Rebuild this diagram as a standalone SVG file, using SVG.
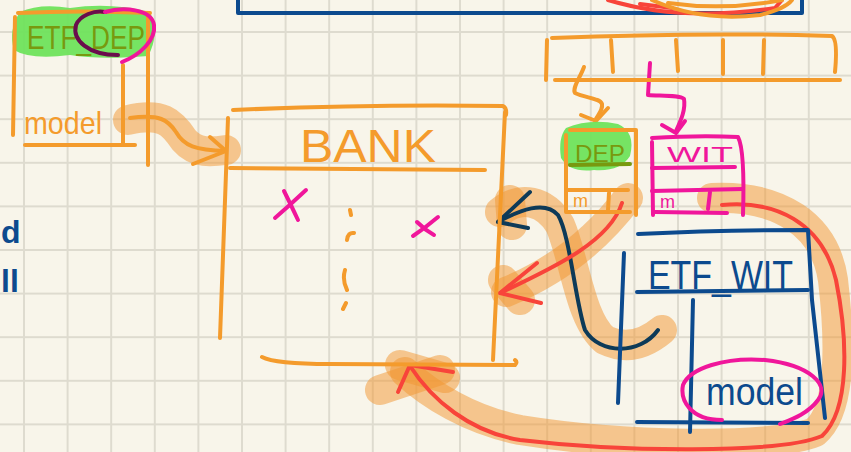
<svg xmlns="http://www.w3.org/2000/svg" width="851" height="452" viewBox="0 0 851 452">
<style>
.o{fill:none;stroke:#f49b2c;stroke-width:4;stroke-linecap:round;stroke-linejoin:round}
.p{fill:none;stroke:#f0169b;stroke-width:4;stroke-linecap:round;stroke-linejoin:round}
.n{fill:none;stroke:#0c4a8e;stroke-width:4;stroke-linecap:round;stroke-linejoin:round}
.r{fill:none;stroke:#f8443a;stroke-width:4;stroke-linecap:round;stroke-linejoin:round}
.d{fill:none;stroke:#0d3a58;stroke-width:4;stroke-linecap:round;stroke-linejoin:round}
.hl{fill:none;stroke:#f29530;stroke-opacity:0.5;stroke-width:30;stroke-linecap:round;stroke-linejoin:round}
.g{fill:#6fe35c;opacity:0.95}
text{font-family:"Liberation Sans","DejaVu Sans",sans-serif}
.to{fill:#f49b2c}
.tg{fill:#78990f}
.tp{fill:#f0169b}
.tn{fill:#0c4a8e}
</style>
<defs>
<pattern id="grid" x="23" y="31" width="43.6" height="43.6" patternUnits="userSpaceOnUse">
<rect x="0" y="0" width="2" height="43.6" fill="#dedbcf"/>
<rect x="0" y="0" width="43.6" height="2" fill="#dedbcf"/>
</pattern>
</defs>
<rect width="851" height="452" fill="#f8f5ea"/>
<rect width="851" height="452" fill="url(#grid)"/>

<g id="top-frame">
<path class="n" d="M238,0 L238,13 L802,13 L802,0"/>
<path class="r" d="M608,0 Q680,22 775,8 L782,0"/>
<path class="r" d="M640,4 L672,8"/>
<path class="o" d="M652,0 Q700,22 760,15 Q785,9 792,0"/>
<path class="o" d="M668,3 Q725,11 782,0"/>
</g>

<g id="left-text">
<text x="1" y="243" font-size="32" font-weight="bold" class="tn">d</text>
<text x="1" y="292" font-size="32" font-weight="bold" class="tn">ll</text>
</g>

<g id="connectors">
<path class="hl" d="M128,120 C162,112 172,122 184,140 C196,154 212,152 226,150"/>
<path class="hl" d="M500,212 C520,195 545,200 560,225 C575,260 580,320 605,340 C630,352 650,340 662,330"/>
<path class="hl" d="M510,200 L512,225"/>
<path class="hl" d="M628,198 C600,235 560,270 506,292"/>
<path class="hl" d="M503,280 L520,300"/>
<path class="hl" d="M712,198 C780,195 825,225 833,280 C840,340 842,410 815,432 C770,450 620,446 520,430 C470,420 430,395 405,372"/>
<path class="hl" d="M380,390 L440,370"/>
<path class="hl" d="M400,365 L445,378"/>
<path class="o" d="M130,118 C160,114 168,120 176,132 C184,146 195,150 226,151"/>
<path class="o" d="M210,137 L226,151 L193,164"/>
<path class="d" d="M498,222 C520,210 545,200 558,215 C570,235 575,300 585,330 C600,355 640,355 658,330"/>
<path class="d" d="M530,192 L498,222 L528,228"/>
<path class="r" d="M622,203 C610,240 560,265 500,293"/>
<path class="r" d="M537,263 L500,293 L541,303"/>
<path class="r" d="M722,205 C775,200 822,222 836,280 C848,340 850,410 822,436 C780,454 620,452 520,440 C470,432 432,400 410,366"/>
<path class="r" d="M398,392 L410,365 L453,372"/>
<path class="o" d="M584,67 C580,78 572,88 575,93 C585,98 600,98 602,104 C603,110 598,115 596,119"/>
<path class="o" d="M581,115 L596,121 L608,108"/>
<path class="p" d="M650,63 L648,95 C660,96 680,95 684,99 C686,110 680,122 676,131"/>
<path class="p" d="M662,125 L676,133 L685,121"/>
</g>

<g id="etf_dep">
<path class="g" d="M20,12 Q40,3 70,8 Q110,2 150,12 Q160,35 148,56 Q100,60 70,55 Q30,60 14,50 Q8,30 20,12 Z"/>
<path class="o" d="M18,13 Q80,10 150,13"/>
<path class="o" d="M15,17 L13,135"/>
<path class="o" d="M148,15 L148,165"/>
<path class="o" d="M123,65 L123,145"/>
<path class="o" d="M25,145 L135,145"/>
<text x="27" y="49" font-size="34" class="tg" textLength="118" lengthAdjust="spacingAndGlyphs">ETF_DEP</text>
<text x="24" y="134" font-size="32" class="to" textLength="78" lengthAdjust="spacingAndGlyphs">model</text>
<path fill="none" stroke="#6a0d4c" stroke-width="4" stroke-linecap="round" d="M118,55 C88,55 72,40 76,25 C80,15 95,10 105,12"/>
<path class="p" d="M105,12 C125,6 152,10 154,25 C156,40 140,55 122,62"/>
</g>

<g id="bank">
<path class="o" d="M233,110 Q370,104 503,106 Q507,108 506,115"/>
<path class="o" d="M228,118 L220,338"/>
<path class="o" d="M505,112 L493,360"/>
<path class="o" d="M230,168 L485,170"/>
<path class="o" d="M262,357 Q275,364 330,364 L515,365 Q518,362 515,360"/>
<text x="300" y="162" font-size="46" class="to" textLength="136" lengthAdjust="spacingAndGlyphs">BANK</text>
<path class="p" d="M275,218 Q290,205 306,190 M284,191 Q290,203 298,220"/>
<path class="p" d="M413,236 Q425,228 438,217 M417,222 Q425,230 434,235"/>
<path class="o" d="M350,210 L351,215 M347,240 Q348,232 354,233 M345,270 Q342,280 347,290 M346,303 L343,309"/>
</g>

<g id="array">
<path class="o" d="M552,38 Q700,32 832,36 Q838,40 835,72"/>
<path class="o" d="M547,40 L546,80"/>
<path class="o" d="M555,80 L840,80"/>
<path class="o" d="M611,40 L613,72 M676,40 L678,71 M723,40 L723,74 M764,40 L763,74"/>
</g>

<g id="dep">
<path class="g" d="M566,128 Q590,118 618,124 Q636,132 630,156 Q620,172 594,170 Q570,173 561,158 Q558,138 566,128 Z"/>
<path class="o" d="M566,135 L566,212"/>
<path class="o" d="M570,130 L636,130 L636,215"/>
<path class="o" d="M567,190 L628,190"/>
<path class="o" d="M609,193 L608,210"/>
<path class="o" d="M567,212 L630,212"/>
<path fill="none" stroke="#78990f" stroke-width="4" stroke-linecap="round" d="M570,165 L630,164"/>
<text x="575" y="162" font-size="24" class="tg" textLength="50" lengthAdjust="spacingAndGlyphs">DEP</text>
<text x="573" y="207" font-size="18" class="to">m</text>
</g>

<g id="wit">
<path class="p" d="M652,142 L653,215"/>
<path class="p" d="M652,138 Q700,135 738,137 Q745,150 743,215"/>
<path class="p" d="M652,168 L735,167"/>
<path class="p" d="M652,191 L743,189"/>
<path class="p" d="M710,192 L708,209"/>
<path class="p" d="M655,212 L727,213"/>
<text x="667" y="162" font-size="22" class="tp" textLength="66" lengthAdjust="spacingAndGlyphs">WIT</text>
<text x="660" y="208" font-size="18" class="tp">m</text>
</g>

<g id="etf_wit">
<path class="n" d="M638,234 Q720,230 808,230 L812,300 L825,418"/>
<path class="n" d="M637,292 L808,290"/>
<path class="n" d="M624,253 L618,403"/>
<path class="n" d="M693,300 L690,432"/>
<path class="n" d="M637,422 L808,423"/>
<text x="648" y="289" font-size="40" class="tn" textLength="145" lengthAdjust="spacingAndGlyphs">ETF_WIT</text>
<text x="706" y="405" font-size="38" class="tn" textLength="97" lengthAdjust="spacingAndGlyphs">model</text>
<path class="p" d="M722,420 C690,420 680,400 683,385 C690,368 725,357 765,360 C810,365 830,385 818,400 C808,414 790,420 780,424"/>
</g>
</svg>
